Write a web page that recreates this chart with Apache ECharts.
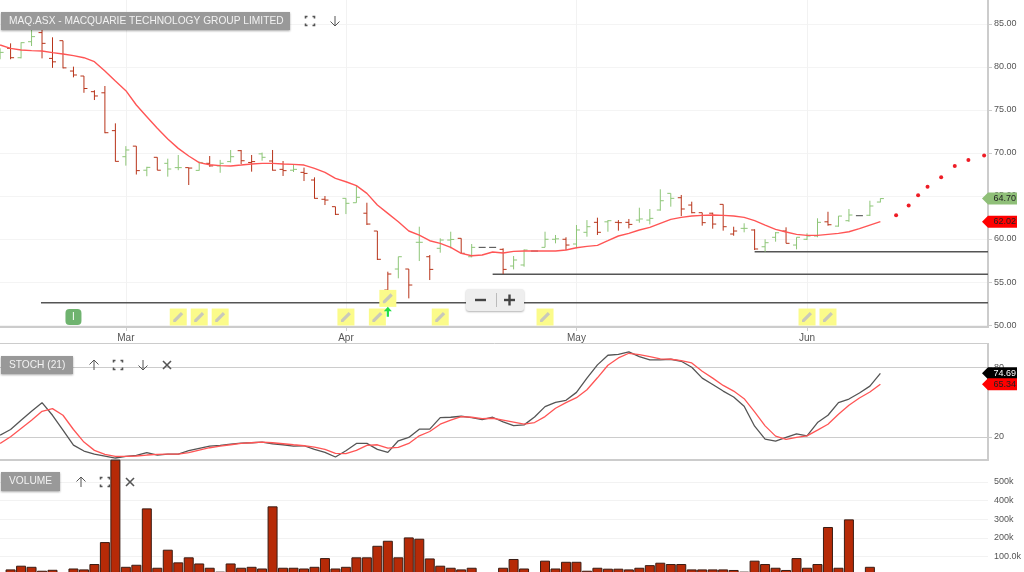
<!DOCTYPE html>
<html lang="en">
	<head>
		<meta charset="utf-8">
	</head>
	<body style="margin: 0; background: #fff; overflow: hidden">
		<div id="container" style="width: 1024px; height: 580px"></div>
		<script src="https://cdn.jsdelivr.net/npm/echarts@6/dist/echarts.min.js"></script>
		<script type="text/javascript">
			// bar number -> daily OHLC
			var opens = [81.2, 82.17, 81.08, 82.94, 84, 81, 83.06, 79.53, 78.95, 77.13, 77, 72.6, 69.57, 70.8, 68, 69.5, 68.8, 68.3, 68.3, 67.98, 68.8, 68.5, 69, 70.27, 68.9, 69.9, 69.07, 68.1, 68, 67.75, 66.86, 64.62, 63.76, 64.73, 64.22, 63, 60.93, 54.07, 56.51, 56.51, 59.62, 57.94, 58.92, 59.88, 60.08, 57.94, 59.03, 59.03, 58.8, 56.86, 56.98, 58.6, 59.03, 59.97, 59.97, 59.42, 60.78, 61.94, 62, 61.94, 61.94, 62.2, 62.2, 63.37, 65.31, 64.8, 63.95, 63.06, 63, 64.03, 60.58, 61.24, 61.05, 59.1, 60.2, 60.93, 59.3, 59.97, 60.35, 62, 61.5, 62.13, 62.71, 62.76, 64.3]
			var highs = [82.17, 82.75, 82.87, 84.38, 84.38, 83.45, 83.06, 80.04, 78.95, 77.3, 77.79, 73.45, 70.8, 70.8, 68.4, 69.5, 69.34, 69.77, 68.3, 69, 69.65, 69.2, 70.35, 70.35, 69.77, 70.05, 70.35, 69.07, 68.72, 68.3, 67.17, 65, 63.76, 64.73, 66.28, 64.22, 60.93, 56.2, 57.94, 56.51, 61.43, 58.14, 60.08, 60.85, 60.08, 59.42, 59.03, 59.03, 58.92, 58.02, 58.8, 58.6, 60.85, 60.47, 60.2, 61.63, 62.2, 62.48, 62.2, 62.2, 62.33, 63.64, 63.49, 65.78, 65.31, 65.12, 64.34, 63.06, 63.06, 64.03, 61.43, 61.83, 61.13, 59.97, 60.81, 61.36, 60.2, 60.66, 62.41, 63.17, 62.67, 63.49, 62.71, 64.45, 64.73]
			var lows = [80.9, 80.9, 81, 82.44, 81, 79.9, 79.84, 78.8, 77, 76.16, 72.3, 69, 68.53, 67.5, 67.3, 68, 67.25, 68, 66.28, 67.95, 68.4, 67.7, 68.9, 68.7, 67.83, 69.1, 67.95, 67.33, 67.79, 66.74, 64.69, 63.95, 62.79, 62.9, 64.22, 61.63, 57.56, 52.33, 55.43, 53.1, 57.44, 55.23, 58.41, 58.92, 58.34, 57.87, 59.03, 59.03, 55.93, 56.47, 56.78, 58.6, 59.03, 59.5, 58.72, 58.92, 60.27, 60.47, 60.85, 60.97, 61.24, 61.9, 61.7, 63.29, 63.76, 62.67, 62.99, 61.55, 61.2, 60.97, 60.38, 60.78, 58.72, 58.52, 59.69, 59.5, 58.8, 59.88, 60.2, 61.55, 61.43, 62, 62.71, 62.67, 64.26]
			var closes = [81.7, 81.08, 82.83, 83.53, 82.75, 80.6, 79.9, 79.07, 77.5, 76.63, 72.36, 69.03, 70.35, 67.95, 68.33, 68, 68.14, 68.3, 68.25, 68.9, 68.5, 68.8, 69.57, 69.1, 69, 69.5, 68, 67.95, 68.1, 67.63, 64.73, 64.53, 62.87, 64.15, 64.85, 61.74, 57.64, 55.93, 57.94, 54.65, 59.62, 56.47, 59.88, 59.95, 58.34, 59.03, 59.03, 59.03, 56.47, 57.56, 58.72, 58.6, 59.97, 60.02, 59.3, 61.05, 61.43, 60.78, 62.13, 61.9, 61.7, 62.33, 62.4, 64.45, 64.73, 63.49, 63.06, 61.9, 61.74, 61.43, 60.93, 61.24, 58.84, 59.57, 60.73, 59.5, 60.2, 60.35, 61.94, 61.66, 62.67, 62.79, 62.71, 63.84, 64.7]
			var maValues = [82.56, 82.17, 81.98, 81.9, 81.86, 81.67, 81.51, 81.32, 81.08, 80.62, 79.53, 78.37, 77.25, 75.58, 74.22, 72.87, 71.63, 70.54, 69.65, 68.88, 68.64, 68.53, 68.49, 68.6, 68.72, 68.8, 68.8, 68.72, 68.68, 68.6, 68.22, 67.75, 67.05, 66.66, 66.2, 65.31, 63.95, 62.98, 62.01, 60.93, 60.46, 59.8, 59.49, 59.03, 58.33, 58.06, 58.14, 58.49, 58.37, 58.56, 58.6, 58.6, 58.6, 58.6, 58.72, 58.99, 59.14, 59.26, 59.8, 60.35, 60.66, 61.05, 61.35, 61.82, 62.28, 62.52, 62.67, 62.75, 62.79, 62.75, 62.67, 62.52, 62.13, 61.62, 61.12, 60.81, 60.54, 60.42, 60.42, 60.54, 60.65, 60.85, 61.2, 61.62, 62.02]
			var stochK = [21.43, 26.3, 34.29, 42, 49.43, 38.57, 25.7, 12.86, 7.71, 5.14, 3.43, 1.71, 3.14, 4, 6.29, 4.29, 5.14, 5.14, 8, 10, 12, 12.57, 13.71, 14.57, 14.86, 15.43, 14, 13.14, 12, 12.29, 9.14, 6.57, 2.57, 8, 14.29, 14.29, 9.14, 6.57, 16.57, 19.43, 26.57, 26.57, 36.57, 36.86, 37.71, 36.57, 34.86, 36.86, 32.86, 29.71, 30.29, 37.14, 46, 49.71, 51.43, 58.29, 70.57, 82, 90.29, 91.14, 93.14, 89.14, 86.29, 86.29, 86.86, 85.14, 80, 70.57, 65.14, 59.43, 54.29, 46.29, 29.14, 18, 16.29, 19.43, 22.57, 20.86, 32.29, 38.57, 49.43, 52.57, 57.71, 63.71, 74.69]
			var stochD = [14.29, 20, 27.14, 34.29, 42, 44.29, 38.57, 26.29, 15.43, 8.29, 4.86, 3.14, 3.14, 3.43, 4.29, 4.86, 5.14, 5.14, 6.29, 8.57, 10.57, 12, 13.14, 14.29, 14.86, 15.43, 14.86, 14, 13.14, 12.29, 11.14, 9.14, 5.71, 5.43, 8.29, 12.57, 13.14, 10.29, 10.86, 14.29, 20.86, 24.57, 30.86, 34.29, 37.43, 36.86, 35.71, 36, 34.29, 32.57, 30.86, 32.29, 37.43, 44.57, 49.43, 53.71, 60.57, 70.86, 81.71, 88, 92, 90.86, 89.14, 87.14, 86.86, 85.71, 83.71, 76.57, 70.57, 64.29, 59.43, 52.86, 41.43, 29.43, 20.57, 17.71, 19.43, 20.86, 25.71, 30.86, 39.43, 47.14, 53.43, 58.57, 65.34]
			// volume in thousands
			var volumes = [0, 30, 50, 44, 23, 28, 0, 35, 30, 59, 177, 620, 44, 55, 358, 39, 136, 68, 95, 62, 39, 18, 62, 39, 44, 35, 369, 39, 39, 35, 44, 91, 35, 44, 95, 95, 157, 184, 95, 202, 195, 89, 50, 39, 30, 39, 0, 0, 39, 86, 35, 0, 77, 35, 71, 71, 23, 39, 34, 34, 30, 39, 53, 66, 59, 59, 30, 30, 30, 30, 27, 18, 77, 59, 39, 27, 91, 39, 59, 258, 39, 299, 0, 44, 0]

			var forecastX = [85.5, 86.7, 87.6, 88.5, 89.8, 91.1, 92.4, 93.9]
			var forecastY = [62.76, 63.9, 65.08, 66.08, 67.17, 68.5, 69.2, 69.7]

			var monthTicks = [12, 33, 55, 77]
			var monthLabels = ['Mar', 'Apr', 'May', 'Jun']
			var priceTicks = [50, 55, 60, 65, 70, 75, 80, 85]
			var stochTicks = [20, 80]
			var volumeTicks = [100, 200, 300, 400, 500]
			var volumeTickLabels = ['100.0k', '200k', '300k', '400k', '500k']

			// support lines: [first bar, price]
			var supportLines = [[3.9, 52.6], [47, 55.9], [72, 58.52]]
			var noteBars = [17, 19, 21, 33, 36, 42, 52, 77, 79]
			var notePrice = 50.93
			var raisedNoteBar = 37
			var raisedNotePrice = 53.1
			var arrowPrice = 51.55
			var badgeBar = 7

			var xMin = -0.01
			var xMax = 94.27

			var RED = '#b8341a'
			var GREEN = '#8ec678'
			var pencil = 'path://M2 12 L2 15 L5 15 L15 5 L12 2 Z'
			var upArrow = 'path://M5 0 L10 5 L6.4 5 L6.4 11 L3.6 11 L3.6 5 L0 5 Z'

			function ohlcItem(params, api) {
				var i = params.dataIndex
				var x = api.coord([i, 0])[0]
				var o = api.coord([i, api.value(1)])[1]
				var h = api.coord([i, api.value(2)])[1]
				var l = api.coord([i, api.value(3)])[1]
				var c = api.coord([i, api.value(4)])[1]
				if (h === l) {
					return {
						type: 'line',
						shape: { x1: x - 3.5, y1: c, x2: x + 3.5, y2: c },
						style: { stroke: '#444', lineWidth: 1 }
					}
				}
				var color = i > 0 && closes[i] < closes[i - 1] ? RED : GREEN
				var style = { stroke: color, lineWidth: 1, fill: null }
				return {
					type: 'group',
					children: [
						{ type: 'line', shape: { x1: x, y1: h, x2: x, y2: l }, style: style },
						{ type: 'line', shape: { x1: x - 3.5, y1: o, x2: x, y2: o }, style: style },
						{ type: 'line', shape: { x1: x, y1: c, x2: x + 3.5, y2: c }, style: style }
					]
				}
			}

			// value flags sitting on the right axis
			function flagSeries(gridIndex, flags) {
				return {
					type: 'custom',
					xAxisIndex: gridIndex,
					yAxisIndex: gridIndex,
					z: 20,
					silent: true,
					clip: false,
					data: flags.map(function(f) { return [xMax, f.value] }),
					renderItem: function(params, api) {
						var f = flags[params.dataIndex]
						var p = api.coord([xMax, f.value])
						var x = p[0]
						var y = p[1]
						return {
							type: 'group',
							children: [
								{
									type: 'polygon',
									shape: { points: [[x - 6, y], [x, y - 6], [x + 29, y - 6], [x + 29, y + 6], [x, y + 6]] },
									style: { fill: f.color }
								},
								{
									type: 'text',
									style: {
										x: x + 5.5,
										y: y,
										text: f.value.toFixed(2),
										fill: f.text,
										font: '9px "Liberation Sans"',
										textVerticalAlign: 'middle'
									}
								}
							]
						}
					}
				}
			}

			function titleBox(x, y, w, h, text) {
				return [{
						type: 'rect',
						shape: { x: x, y: y, width: w, height: h },
						style: { fill: '#999', shadowBlur: 2, shadowColor: 'rgba(0,0,0,0.35)', shadowOffsetY: 1 },
						z: 50
					},
					{
						type: 'text',
						style: { x: x + 8, y: y + h / 2, text: text, fill: '#f2f2f2', font: '10.2px "Liberation Sans"', textVerticalAlign: 'middle' },
						z: 51
					}
				]
			}

			function iconLine(points, width) {
				return {
					type: 'polyline',
					shape: { points: points },
					style: { stroke: '#555', lineWidth: width || 1, fill: null },
					z: 51
				}
			}

			function fullIcon(x, y) {
				var r = 4.5,
					k = 2
				return [
					iconLine([[x - r, y - r + k], [x - r, y - r], [x - r + k, y - r]], 1.6),
					iconLine([[x + r - k, y - r], [x + r, y - r], [x + r, y - r + k]], 1.6),
					iconLine([[x - r, y + r - k], [x - r, y + r], [x - r + k, y + r]], 1.6),
					iconLine([[x + r - k, y + r], [x + r, y + r], [x + r, y + r - k]], 1.6)
				]
			}

			function arrowIcon(x, y, dir) {
				return [
					iconLine([[x, y - 5 * dir], [x, y + 5 * dir]]),
					iconLine([[x - 4.5, y + 0.5 * dir], [x, y + 5 * dir], [x + 4.5, y + 0.5 * dir]])
				]
			}

			function closeIcon(x, y) {
				return [
					iconLine([[x - 4, y - 4], [x + 4, y + 4]], 1.6),
					iconLine([[x + 4, y - 4], [x - 4, y + 4]], 1.6)
				]
			}

			var chrome = [].concat(
				titleBox(1, 12, 289, 18, 'MAQ.ASX - MACQUARIE TECHNOLOGY GROUP LIMITED'),
				fullIcon(310, 21),
				arrowIcon(335, 21, 1),
				titleBox(1, 356, 72, 18, 'STOCH (21)'),
				arrowIcon(94, 365, -1),
				fullIcon(118, 365),
				arrowIcon(143, 365, 1),
				closeIcon(167, 365),
				titleBox(1, 472, 59, 19, 'VOLUME'),
				arrowIcon(81, 482, -1),
				fullIcon(105, 482),
				closeIcon(130, 482), [{
						type: 'line',
						shape: { x1: 0, y1: 343.5, x2: 989, y2: 343.5 },
						style: { stroke: '#ccc', lineWidth: 1 },
						z: 5
					},
					{
						type: 'rect',
						shape: { x: 466, y: 289, width: 58, height: 22, r: 3 },
						style: { fill: '#eee', shadowBlur: 2, shadowColor: 'rgba(0,0,0,0.3)', shadowOffsetY: 1 },
						z: 50
					},
					{
						type: 'line',
						shape: { x1: 496.5, y1: 293, x2: 496.5, y2: 307 },
						style: { stroke: '#bbb', lineWidth: 1 },
						z: 51
					},
					{
						type: 'rect',
						shape: { x: 475, y: 298.8, width: 11, height: 2.4 },
						style: { fill: '#444' },
						z: 51
					},
					{
						type: 'rect',
						shape: { x: 504, y: 298.8, width: 11, height: 2.4 },
						style: { fill: '#444' },
						z: 51
					},
					{
						type: 'rect',
						shape: { x: 508.3, y: 294.5, width: 2.4, height: 11 },
						style: { fill: '#444' },
						z: 51
					}
				]
			)

			var axisFont = {
				color: '#555',
				fontSize: 9,
				fontFamily: 'Liberation Sans'
			}

			var option = {
				animation: false,
				graphic: chrome,
				grid: [
					{ left: 0, width: 988, top: 0, height: 327 },
					{ left: 0, width: 988, top: 344, height: 116 },
					{ left: 0, width: 988, top: 460, height: 115 }
				],
				xAxis: [{
						type: 'value',
						gridIndex: 0,
						min: xMin,
						max: xMax,
						axisLine: { onZero: false, lineStyle: { color: '#ccc', width: 2 } },
						axisTick: { customValues: monthTicks, length: 4, lineStyle: { color: '#ccc' } },
						splitLine: { lineStyle: { color: '#f2f2f2' } },
						axisLabel: Object.assign({}, axisFont, {
							customValues: monthTicks,
							margin: 6,
							fontSize: 10,
							formatter: function(v) {
								return monthLabels[monthTicks.indexOf(v)]
							}
						})
					},
					{
						type: 'value',
						gridIndex: 1,
						min: xMin,
						max: xMax,
						axisLine: { onZero: false, lineStyle: { color: '#ccc', width: 2 } },
						axisTick: { show: false },
						axisLabel: { show: false },
						splitLine: { show: false }
					},
					{
						type: 'value',
						gridIndex: 2,
						min: xMin,
						max: xMax,
						show: false
					}
				],
				yAxis: [{
						type: 'value',
						gridIndex: 0,
						position: 'right',
						min: 49.77,
						max: 87.79,
						axisLine: { show: true, onZero: false, lineStyle: { color: '#ccc', width: 2 } },
						axisTick: { show: true, customValues: priceTicks, length: 4, lineStyle: { color: '#ccc' } },
						splitLine: { lineStyle: { color: '#f4f4f4' } },
						axisLabel: Object.assign({
							customValues: priceTicks,
							margin: 6,
							formatter: function(v) {
								return v.toFixed(2)
							}
						}, axisFont)
					},
					{
						type: 'value',
						gridIndex: 1,
						position: 'right',
						min: 0,
						max: 100,
						axisLine: { show: true, onZero: false, lineStyle: { color: '#ccc', width: 2 } },
						axisTick: { show: true, customValues: stochTicks, length: 4, lineStyle: { color: '#ccc' } },
						splitLine: { lineStyle: { color: '#ccc' } },
						axisLabel: Object.assign({ customValues: stochTicks, margin: 6 }, axisFont)
					},
					{
						type: 'value',
						gridIndex: 2,
						position: 'right',
						min: 0,
						max: 618,
						axisLine: { show: false, onZero: false },
						axisTick: { show: false, customValues: volumeTicks },
						splitLine: { lineStyle: { color: '#f2f2f2' } },
						axisLabel: Object.assign({
							customValues: volumeTicks,
							margin: 6,
							formatter: function(v) {
								return volumeTickLabels[volumeTicks.indexOf(v)]
							}
						}, axisFont)
					}
				],
				series: [{
						name: 'price',
						type: 'custom',
						xAxisIndex: 0,
						yAxisIndex: 0,
						z: 3,
						renderItem: ohlcItem,
						encode: { x: 0, y: [1, 2, 3, 4] },
						data: closes.map(function(c, i) {
							return [i, opens[i], highs[i], lows[i], c]
						})
					},
					{
						name: 'ma',
						type: 'line',
						xAxisIndex: 0,
						yAxisIndex: 0,
						z: 4,
						symbol: 'none',
						lineStyle: { color: '#ff5555', width: 1.4 },
						data: maValues.map(function(v, i) {
							return [i, v]
						})
					},
					{
						name: 'forecast',
						type: 'scatter',
						xAxisIndex: 0,
						yAxisIndex: 0,
						symbolSize: 4,
						itemStyle: { color: '#ee1c25', opacity: 1 },
						data: forecastX.map(function(x, i) {
							return [x, forecastY[i]]
						})
					}
				].concat(supportLines.map(function(s) {
					return {
						name: 'support',
						type: 'line',
						xAxisIndex: 0,
						yAxisIndex: 0,
						z: 2,
						symbol: 'none',
						lineStyle: { color: '#555', width: 1.5 },
						data: [[s[0], s[1]], [xMax, s[1]]]
					}
				}), [{
						name: 'notes',
						type: 'scatter',
						xAxisIndex: 0,
						yAxisIndex: 0,
						z: 6,
						symbol: 'rect',
						symbolSize: 17,
						itemStyle: { color: '#fbfb8a', opacity: 1 },
						data: noteBars.map(function(b) {
							return [b, notePrice]
						}).concat([[raisedNoteBar, raisedNotePrice]])
					},
					{
						name: 'pencils',
						type: 'scatter',
						xAxisIndex: 0,
						yAxisIndex: 0,
						z: 7,
						symbol: pencil,
						symbolSize: 10,
						itemStyle: { color: '#c8c8bc', opacity: 1 },
						data: noteBars.map(function(b) {
							return [b, notePrice]
						}).concat([[raisedNoteBar, raisedNotePrice]])
					},
					{
						name: 'arrow',
						type: 'scatter',
						xAxisIndex: 0,
						yAxisIndex: 0,
						z: 7,
						symbol: upArrow,
						symbolSize: [8, 10],
						itemStyle: { color: '#22dd44', opacity: 1 },
						data: [[raisedNoteBar, arrowPrice]]
					},
					{
						name: 'badge',
						type: 'scatter',
						xAxisIndex: 0,
						yAxisIndex: 0,
						z: 7,
						symbol: 'roundRect',
						symbolSize: 16,
						itemStyle: { color: '#6fb36f', opacity: 1 },
						label: { show: true, position: 'inside', formatter: 'I', color: '#fff', fontSize: 10, fontFamily: 'Liberation Sans' },
						data: [[badgeBar, notePrice]]
					},
					flagSeries(0, [
						{ value: 64.7, color: '#8fbf78', text: '#222' },
						{ value: 62.02, color: '#ff0000', text: '#222' }
					]),
					{
						name: 'stoch k',
						type: 'line',
						xAxisIndex: 1,
						yAxisIndex: 1,
						symbol: 'none',
						z: 3,
						lineStyle: { color: '#555', width: 1.3 },
						data: stochK.map(function(v, i) {
							return [i, v]
						})
					},
					{
						name: 'stoch d',
						type: 'line',
						xAxisIndex: 1,
						yAxisIndex: 1,
						symbol: 'none',
						z: 4,
						lineStyle: { color: '#ff5555', width: 1.3 },
						data: stochD.map(function(v, i) {
							return [i, v]
						})
					},
					flagSeries(1, [
						{ value: 74.69, color: '#000', text: '#fff' },
						{ value: 65.34, color: '#ff0000', text: '#222' }
					]),
					{
						name: 'volume',
						type: 'bar',
						xAxisIndex: 2,
						yAxisIndex: 2,
						barWidth: 10,
						itemStyle: { color: '#b62a07', borderColor: '#3a1d14', borderWidth: 1 },
						data: volumes.map(function(v, i) {
							return [i, v]
						})
					}
				])
			}

			var myChart = echarts.init(document.getElementById('container'), null, { renderer: 'canvas' })
			myChart.setOption(option)
		</script>
	</body>
</html>
